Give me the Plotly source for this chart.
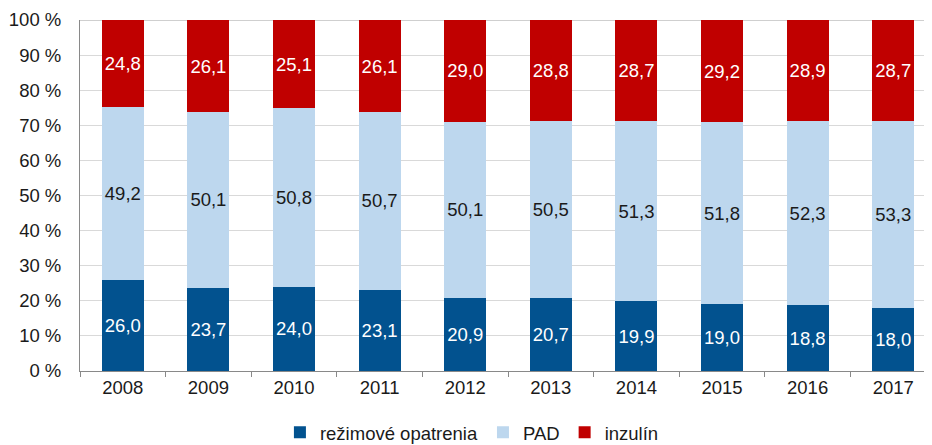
import plotly.graph_objects as go

years = ["2008", "2009", "2010", "2011", "2012", "2013", "2014", "2015", "2016", "2017"]
rezim = [26.0, 23.7, 24.0, 23.1, 20.9, 20.7, 19.9, 19.0, 18.8, 18.0]
pad = [49.2, 50.1, 50.8, 50.7, 50.1, 50.5, 51.3, 51.8, 52.3, 53.3]
inzulin = [24.8, 26.1, 25.1, 26.1, 29.0, 28.8, 28.7, 29.2, 28.9, 28.7]
series_names = ["režimové opatrenia", "PAD", "inzulín"]
y_ticks = [0, 10, 20, 30, 40, 50, 60, 70, 80, 90, 100]
y_tick_labels = [f"{v} %" for v in y_ticks]

colors = ["#02528F", "#BDD7EE", "#C00000"]
text_colors = ["white", "#1a1a1a", "white"]
FONT = "Liberation Sans, Arial, sans-serif"

def fmt(v):
    return f"{v:.1f}".replace(".", ",")

fig = go.Figure()
for name, vals, c, tc in zip(series_names, [rezim, pad, inzulin], colors, text_colors):
    fig.add_trace(go.Bar(
        x=years, y=vals, name=name,
        marker=dict(color=c, line=dict(width=0)),
        width=0.49,
        text=[fmt(v) for v in vals],
        textposition="inside",
        insidetextanchor="middle",
        constraintext="none",
        textangle=0,
        textfont=dict(color=tc, size=18.5, family=FONT),
        hoverinfo="skip",
    ))

fig.update_layout(
    barmode="stack",
    width=924, height=437,
    margin=dict(l=72, r=0, t=12, b=74, autoexpand=False),
    paper_bgcolor="white", plot_bgcolor="white",
    font=dict(family=FONT, size=18.5, color="#1a1a1a"),
    showlegend=True,
    legend=dict(orientation="h", x=0.46, xanchor="center", y=-0.176, yanchor="middle",
                font=dict(size=18.5), itemwidth=30, traceorder="normal", itemclick=False),
    xaxis=dict(
        type="category",
        range=[-0.5, 9.453],
        automargin=False,
        showline=True, linecolor="#898989", linewidth=1,
        ticks="outside", tickson="boundaries", ticklen=5, tickcolor="#898989",
        showgrid=False,
        tickfont=dict(size=18.5),
    ),
    yaxis=dict(
        range=[0, 100],
        automargin=False,
        tickvals=y_ticks,
        ticktext=y_tick_labels,
        showline=True, linecolor="#898989", linewidth=1,
        showgrid=True, gridcolor="#D9D9D9", gridwidth=1,
        zeroline=False,
        ticks="", ticklabelstandoff=14,
        tickfont=dict(size=18.5),
    ),
)
fig.add_shape(type="line", xref="paper", yref="y", x0=0, x1=1, y0=100, y1=100,
              line=dict(color="#A0A0A0", width=1), layer="below")

fig.write_html("out.html")
